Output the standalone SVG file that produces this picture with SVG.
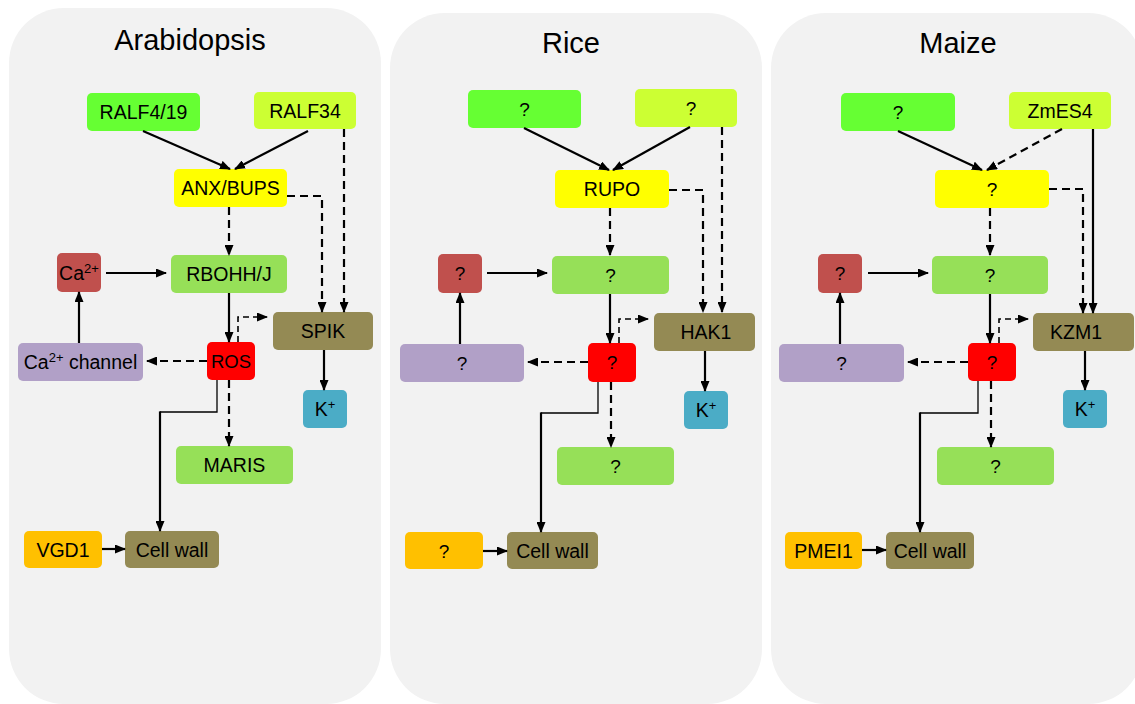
<svg xmlns="http://www.w3.org/2000/svg" width="1135" height="704" viewBox="0 0 1135 704">
<defs>
<marker id="ah" markerUnits="userSpaceOnUse" markerWidth="11" markerHeight="9" refX="10" refY="4.5" orient="auto">
<path d="M0,0 L11,4.5 L0,9 z" fill="#000"/>
</marker>
<style>
.panel{fill:#F2F2F2}
.title{font-family:"Liberation Sans",Arial,sans-serif;font-size:29px;fill:#000;text-anchor:middle}
.lbl{font-family:"Liberation Sans",Arial,sans-serif;font-size:19.5px;fill:#000;text-anchor:middle}
.q{font-family:"Liberation Sans",Arial,sans-serif;font-size:19px;fill:#000;text-anchor:middle}
.sup{font-size:13px}
.g1{fill:#66FF33}
.g2{fill:#CCFF33}
.yl{fill:#FFFF00}
.br{fill:#C0504D}
.lg{fill:#96E058}
.ol{fill:#948A54}
.rd{fill:#FF0000}
.pu{fill:#B1A0C7}
.bl{fill:#4BACC6}
.or{fill:#FFC000}
.s{fill:none;stroke:#000;stroke-width:2.2}
.d{fill:none;stroke:#000;stroke-width:2.2;stroke-dasharray:8,5}
.dt{fill:none;stroke:#000;stroke-width:1.6;stroke-dasharray:6,4}
.t{fill:none;stroke:#000;stroke-width:1.3}
.a{marker-end:url(#ah)}
</style>
</defs>

<g id="panels">
<rect class="panel" x="9" y="8" width="372" height="696" rx="55"/>
<rect class="panel" x="390" y="13" width="372" height="691" rx="55"/>
<rect class="panel" x="771" y="13" width="372" height="691" rx="55"/>
<text class="title" x="190" y="50">Arabidopsis</text>
<text class="title" x="571" y="53">Rice</text>
<text class="title" x="958" y="53">Maize</text>
</g>

<!-- Panel 1: Arabidopsis -->
<g id="a-ralf419"><rect class="g1" x="87" y="93" width="113" height="38" rx="5"/><text class="lbl" x="143.5" y="119">RALF4/19</text></g>
<g id="a-ralf34"><rect class="g2" x="254" y="92" width="102" height="37" rx="5"/><text class="lbl" x="305" y="118">RALF34</text></g>
<g id="a-anx"><rect class="yl" x="174" y="169" width="113" height="38" rx="5"/><text class="lbl" x="230.5" y="195">ANX/BUPS</text></g>
<g id="a-ca"><rect class="br" x="57" y="253" width="44" height="39" rx="5"/><text class="lbl" x="79" y="280">Ca<tspan class="sup" dy="-7">2+</tspan></text></g>
<g id="a-rboh"><rect class="lg" x="171" y="255" width="116" height="38" rx="5"/><text class="lbl" x="229" y="281">RBOHH/J</text></g>
<g id="a-spik"><rect class="ol" x="273" y="312" width="100" height="38" rx="5"/><text class="lbl" x="323" y="338">SPIK</text></g>
<g id="a-ros"><rect class="rd" x="207" y="342" width="48" height="38" rx="5"/><text class="lbl" x="231" y="368" style="font-size:18.5px">ROS</text></g>
<g id="a-cach"><rect class="pu" x="18" y="343" width="125" height="38" rx="5"/><text class="lbl" x="80.5" y="369">Ca<tspan class="sup" dy="-7">2+</tspan><tspan dy="7"> channel</tspan></text></g>
<g id="a-k"><rect class="bl" x="303" y="390" width="44" height="38" rx="5"/><text class="lbl" x="325" y="416">K<tspan class="sup" dy="-7">+</tspan></text></g>
<g id="a-maris"><rect class="lg" x="176" y="446" width="117" height="38" rx="5"/><text class="lbl" x="234.5" y="472">MARIS</text></g>
<g id="a-vgd1"><rect class="or" x="24" y="531" width="78" height="37" rx="5"/><text class="lbl" x="63" y="557">VGD1</text></g>
<g id="a-cw"><rect class="ol" x="125" y="531" width="94" height="37" rx="5"/><text class="lbl" x="172" y="557">Cell wall</text></g>

<!-- Panel 2: Rice -->
<g id="r-q1"><rect class="g1" x="468" y="90" width="113" height="38" rx="5"/><text class="q" x="524.5" y="116">?</text></g>
<g id="r-q2"><rect class="g2" x="635" y="89" width="102" height="38" rx="5"/><text class="q" x="691" y="115">?</text></g>
<g id="r-rupo"><rect class="yl" x="555" y="170" width="114" height="38" rx="5"/><text class="lbl" x="612" y="196">RUPO</text></g>
<g id="r-ca"><rect class="br" x="438" y="254" width="44" height="39" rx="5"/><text class="q" x="460" y="280">?</text></g>
<g id="r-rboh"><rect class="lg" x="552" y="256" width="117" height="38" rx="5"/><text class="q" x="610.5" y="282">?</text></g>
<g id="r-hak1"><rect class="ol" x="654" y="313" width="101" height="38" rx="5"/><text class="lbl" x="706" y="339">HAK1</text></g>
<g id="r-ros"><rect class="rd" x="588" y="343" width="48" height="39" rx="5"/><text class="q" x="612" y="369">?</text></g>
<g id="r-cach"><rect class="pu" x="400" y="344" width="124" height="38" rx="5"/><text class="q" x="462" y="370">?</text></g>
<g id="r-k"><rect class="bl" x="684" y="391" width="44" height="38" rx="5"/><text class="lbl" x="706" y="417">K<tspan class="sup" dy="-7">+</tspan></text></g>
<g id="r-maris"><rect class="lg" x="557" y="447" width="117" height="38" rx="5"/><text class="q" x="615.5" y="473">?</text></g>
<g id="r-vgd1"><rect class="or" x="405" y="532" width="78" height="37" rx="5"/><text class="q" x="444" y="558">?</text></g>
<g id="r-cw"><rect class="ol" x="507" y="532" width="91" height="37" rx="5"/><text class="lbl" x="552.5" y="558">Cell wall</text></g>

<!-- Panel 3: Maize -->
<g id="m-q1"><rect class="g1" x="841" y="93" width="114" height="38" rx="5"/><text class="q" x="898" y="119">?</text></g>
<g id="m-zmes4"><rect class="g2" x="1009" y="92" width="102" height="37" rx="5"/><text class="lbl" x="1060" y="118">ZmES4</text></g>
<g id="m-anx"><rect class="yl" x="935" y="170" width="114" height="38" rx="5"/><text class="q" x="992" y="196">?</text></g>
<g id="m-ca"><rect class="br" x="818" y="254" width="44" height="39" rx="5"/><text class="q" x="840" y="280">?</text></g>
<g id="m-rboh"><rect class="lg" x="932" y="256" width="116" height="38" rx="5"/><text class="q" x="990" y="282">?</text></g>
<g id="m-kzm1"><rect class="ol" x="1033" y="313" width="101" height="38" rx="5"/><text class="lbl" x="1076" y="339">KZM1</text></g>
<g id="m-ros"><rect class="rd" x="968" y="343" width="48" height="38" rx="5"/><text class="q" x="992" y="369">?</text></g>
<g id="m-cach"><rect class="pu" x="779" y="344" width="125" height="38" rx="5"/><text class="q" x="841.5" y="370">?</text></g>
<g id="m-k"><rect class="bl" x="1063" y="390" width="44" height="38" rx="5"/><text class="lbl" x="1085" y="416">K<tspan class="sup" dy="-7">+</tspan></text></g>
<g id="m-maris"><rect class="lg" x="937" y="447" width="117" height="38" rx="5"/><text class="q" x="995.5" y="473">?</text></g>
<g id="m-pmei1"><rect class="or" x="785" y="532" width="77" height="37" rx="5"/><text class="lbl" x="823.5" y="558">PMEI1</text></g>
<g id="m-cw"><rect class="ol" x="886" y="532" width="88" height="37" rx="5"/><text class="lbl" x="930" y="558">Cell wall</text></g>

<g id="connectors">
<!-- Panel 1 -->
<path class="s a" d="M143,131 L230,169"/>
<path class="s a" d="M308,131 L235,169"/>
<path class="d a" d="M229,207 L229,255"/>
<path class="d a" d="M287,196 L322,196 L322,312"/>
<path class="d a" d="M344,129 L344,312"/>
<path class="s a" d="M106,273 L166,273"/>
<path class="s a" d="M229,293 L229,342"/>
<path class="dt a" d="M238,342 L238,317 L267,317"/>
<path class="d a" d="M207,361 L147,361"/>
<path class="s a" d="M79,343 L79,292"/>
<path class="s a" d="M324,350 L324,390"/>
<path class="d a" d="M229,380 L229,446"/>
<path class="t" d="M217,380 L217,412 L160,412"/>
<path class="s a" d="M160,411.4 L160,531"/>
<path class="s a" d="M102,549 L125,549"/>
<!-- Panel 2 -->
<path class="s a" d="M524,128 L609,170"/>
<path class="s a" d="M690,127 L613,170"/>
<path class="d a" d="M610,208 L610,255"/>
<path class="d a" d="M669,190 L703,190 L703,312"/>
<path class="d a" d="M722,127 L722,312"/>
<path class="s a" d="M487,273 L547,273"/>
<path class="s a" d="M610,294 L610,343"/>
<path class="dt a" d="M619,343 L619,319 L648,319"/>
<path class="d a" d="M588,362 L528,362"/>
<path class="s a" d="M460,344 L460,293"/>
<path class="s a" d="M705,351 L705,391"/>
<path class="d a" d="M611,382 L611,447"/>
<path class="t" d="M598,382 L598,413 L541,413"/>
<path class="s a" d="M541,412.4 L541,532"/>
<path class="s a" d="M483,551 L507,551"/>
<!-- Panel 3 -->
<path class="s a" d="M898,131 L982,170"/>
<path class="d a" d="M1062,129 L987,170"/>
<path class="d a" d="M990,208 L990,255"/>
<path class="d a" d="M1049,189 L1083,189 L1083,313"/>
<path class="s a" d="M1093,129 L1093,313"/>
<path class="s a" d="M868,273 L928,273"/>
<path class="s a" d="M990,294 L990,343"/>
<path class="dt a" d="M999,343 L999,319 L1028,319"/>
<path class="d a" d="M968,362 L908,362"/>
<path class="s a" d="M840,344 L840,293"/>
<path class="s a" d="M1085,351 L1085,390"/>
<path class="d a" d="M991,381 L991,447"/>
<path class="t" d="M978,381 L978,413 L920,413"/>
<path class="s a" d="M920,412.4 L920,532"/>
<path class="s a" d="M862,550 L886,550"/>
</g>
</svg>
